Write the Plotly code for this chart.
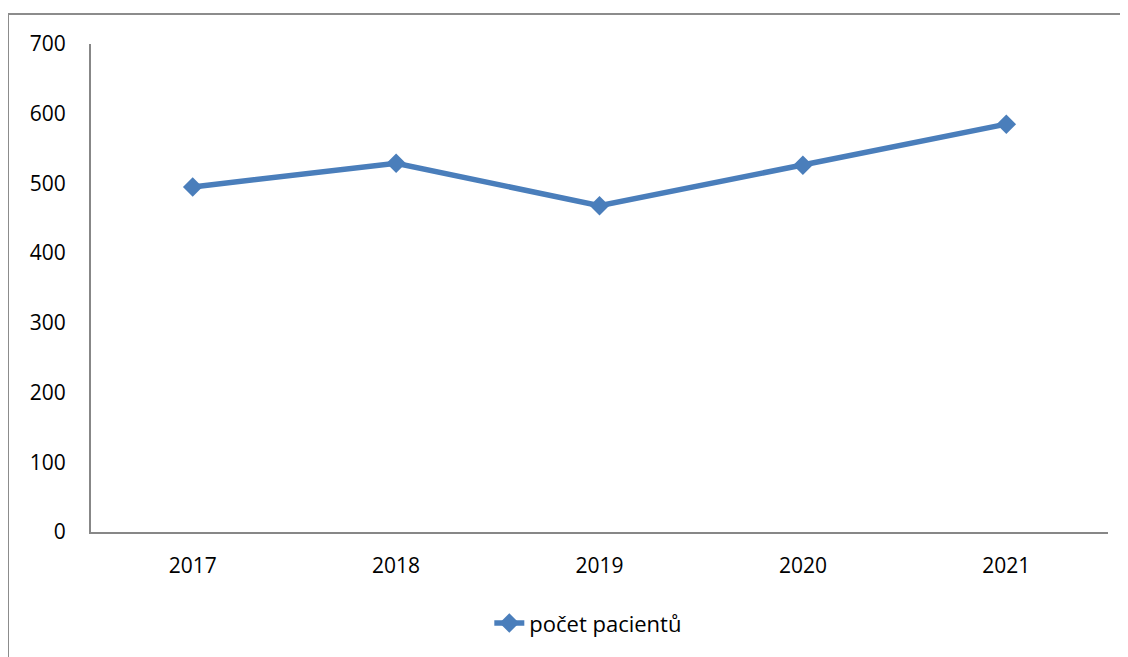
import plotly.graph_objects as go

years = ["2017", "2018", "2019", "2020", "2021"]
patients = [495, 529, 468, 526, 585]
series_name = "počet pacientů"
y_ticks = [0, 100, 200, 300, 400, 500, 600, 700]

color = "#4A7EBB"
axis_color = "#878787"
font = "Open Sans, Noto Sans, sans-serif"

fig = go.Figure()
fig.add_trace(go.Scatter(
    x=years, y=patients, mode="lines+markers", name=series_name,
    line=dict(color=color, width=5.5),
    marker=dict(symbol="diamond", size=15, color=color),
))

# page body adds an 8px offset; compensate so the plot lands where the reference has it
OFF = 8
W, H = 1128, 657
L, R, T, B = 91 - OFF, 20 + OFF, 44 - OFF, 125 + OFF
pw, ph = W - L - R, H - T - B

fig.update_layout(
    width=W, height=H,
    margin=dict(l=L, r=R, t=T, b=B, autoexpand=False),
    paper_bgcolor="white", plot_bgcolor="white",
    font=dict(family=font, size=21, color="black"),
    showlegend=True,
    legend=dict(orientation="h", x=0.489, xanchor="center", y=-0.187, yanchor="middle",
                font=dict(size=22)),
    xaxis=dict(type="category", range=[-0.5, 4.5], showgrid=False, automargin=False,
               showline=True, linecolor=axis_color, linewidth=2,
               ticks="", ticklabelstandoff=14),
    yaxis=dict(range=[0, 700], tickvals=y_ticks, showgrid=False, zeroline=False, automargin=False,
               showline=True, linecolor=axis_color, linewidth=2,
               ticks="", ticklabelstandoff=19),
)

fig.add_shape(type="rect", xref="paper", yref="paper",
              x0=(0 - L) / pw, x1=1.2, y0=-0.5, y1=(H - B - 6) / ph,
              line=dict(color="#8C8C8C", width=2), fillcolor="rgba(0,0,0,0)", layer="below")

fig.write_html("out.html")
